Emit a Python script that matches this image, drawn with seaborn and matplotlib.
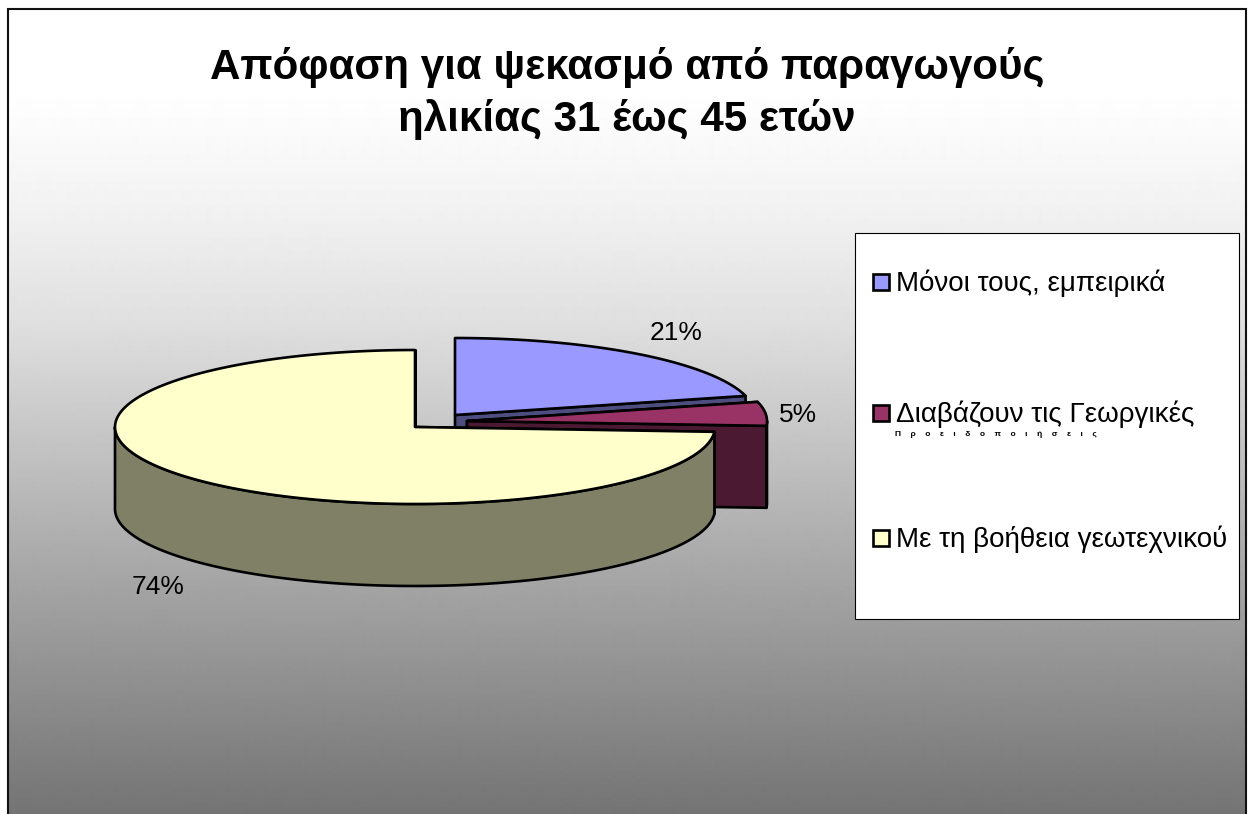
import numpy as np
import matplotlib
matplotlib.use("Agg")
import matplotlib.pyplot as plt
from matplotlib.patches import Rectangle
import seaborn as sns

# Survey shares, in slice order clockwise from twelve o'clock
categories = ["Μόνοι τους, εμπειρικά", "Διαβάζουν τις Γεωργικές", "Με τη βοήθεια γεωτεχνικού"]
shares = [21, 5, 74]
category_note = "Π    ρ    ο    ε    ι    δ    ο    π    ο    ι    ή    σ    ε    ι    ς"
title_lines = ["Απόφαση για ψεκασμό από παραγωγούς", "ηλικίας 31 έως 45 ετών"]

sns.set_theme(style="white")
plt.rcParams["font.family"] = ["Liberation Sans", "DejaVu Sans"]
top_colors = sns.color_palette(["#9999FF", "#993366", "#FFFFCC"])
side_colors = sns.color_palette(["#4D4D80", "#4C1933", "#808066"])

W, H = 1258, 814
fig = plt.figure(figsize=(W / 100, H / 100), dpi=100, facecolor="white")
ax = fig.add_axes([0, 0, 1, 1])
ax.set_xlim(0, W)
ax.set_ylim(H, 0)
ax.axis("off")

# Plot-area background: white at the top fading to mid grey
FRAME_L, FRAME_T, FRAME_R = 8, 9, 1246
rows = np.arange(FRAME_T, H)
shade = np.interp(rows, [FRAME_T, 100, 200, 320, 540, 814],
                  [255, 254, 243, 224, 174, 116]) / 255
ax.imshow(shade[:, None], cmap="gray", vmin=0, vmax=1, aspect="auto",
          extent=[FRAME_L, FRAME_R, H, FRAME_T], zorder=0, interpolation="bilinear")
ax.set_xlim(0, W)
ax.set_ylim(H, 0)
ax.plot([FRAME_L, FRAME_L, FRAME_R, FRAME_R], [H, FRAME_T, FRAME_T, H],
        color="#111111", lw=1.5, zorder=1, solid_joinstyle="miter")

# Ellipse geometry of the 3-D pie
RX, RY, DEPTH = 300, 77, 82
apexes = [(455, 415), (467, 421), (415, 427)]
LW = 1.9


def rim(cx, cy, start, stop, n=160):
    """Points on the ellipse between two clockwise angles measured from the top."""
    t = np.radians(np.linspace(start, stop, n))
    return cx + RX * np.sin(t), cy - RY * np.cos(t)


def draw_slice(idx, start, stop, z):
    cx, cy = apexes[idx]
    x, y = rim(cx, cy, start, stop)
    edge = dict(edgecolor="black", linewidth=LW, joinstyle="round")
    # cut face running from the centre to the trailing rim point
    for k in (0, -1):
        ax.fill([cx, x[k], x[k], cx], [cy, y[k], y[k] + DEPTH, cy + DEPTH],
                facecolor=side_colors[idx], zorder=z, **edge)
    # outer wall, only where the rim faces the viewer
    lo, hi = max(start, 90), min(stop, 270)
    if idx == 2:
        lo, hi = start, 270
    if hi > lo:
        wx, wy = rim(cx, cy, lo, hi)
        ax.fill(np.r_[wx, wx[::-1]], np.r_[wy, wy[::-1] + DEPTH],
                facecolor=side_colors[idx], zorder=z, **edge)
    ax.fill(np.r_[cx, x], np.r_[cy, y], facecolor=top_colors[idx], zorder=z + 0.5, **edge)


edges = np.r_[0, np.cumsum(shares)] * 3.6
for i in range(3):
    draw_slice(i, edges[i], edges[i + 1], 2 + i)

# Percentage labels
label_pos = [(676, 333), (798, 415), (158, 587)]
for (lx, ly), s in zip(label_pos, shares):
    ax.text(lx, ly, f"{s}%", fontsize=19, color="black", ha="center", va="center", zorder=8)

# Title
for line, ty in zip(title_lines, (67, 119)):
    ax.text(627, ty, line, fontsize=30.3, fontweight="bold", color="black",
            ha="center", va="center", zorder=8)

# Legend box
ax.add_patch(Rectangle((855, 233), 384, 386, facecolor="white", edgecolor="black",
                       linewidth=0.8, zorder=6))
legend_y = [282, 413, 538]
for y, name, color in zip(legend_y, categories, top_colors):
    ax.add_patch(Rectangle((873, y - 8), 16, 16, facecolor=color, edgecolor="black",
                           linewidth=LW, zorder=7))
    ax.text(896, y + 1, name, fontsize=20, color="black", ha="left", va="center", zorder=8)
ax.text(895, 434, category_note, fontsize=6, fontweight="bold", color="black",
        ha="left", va="center", zorder=8)

fig.savefig("out.png", dpi=100)
